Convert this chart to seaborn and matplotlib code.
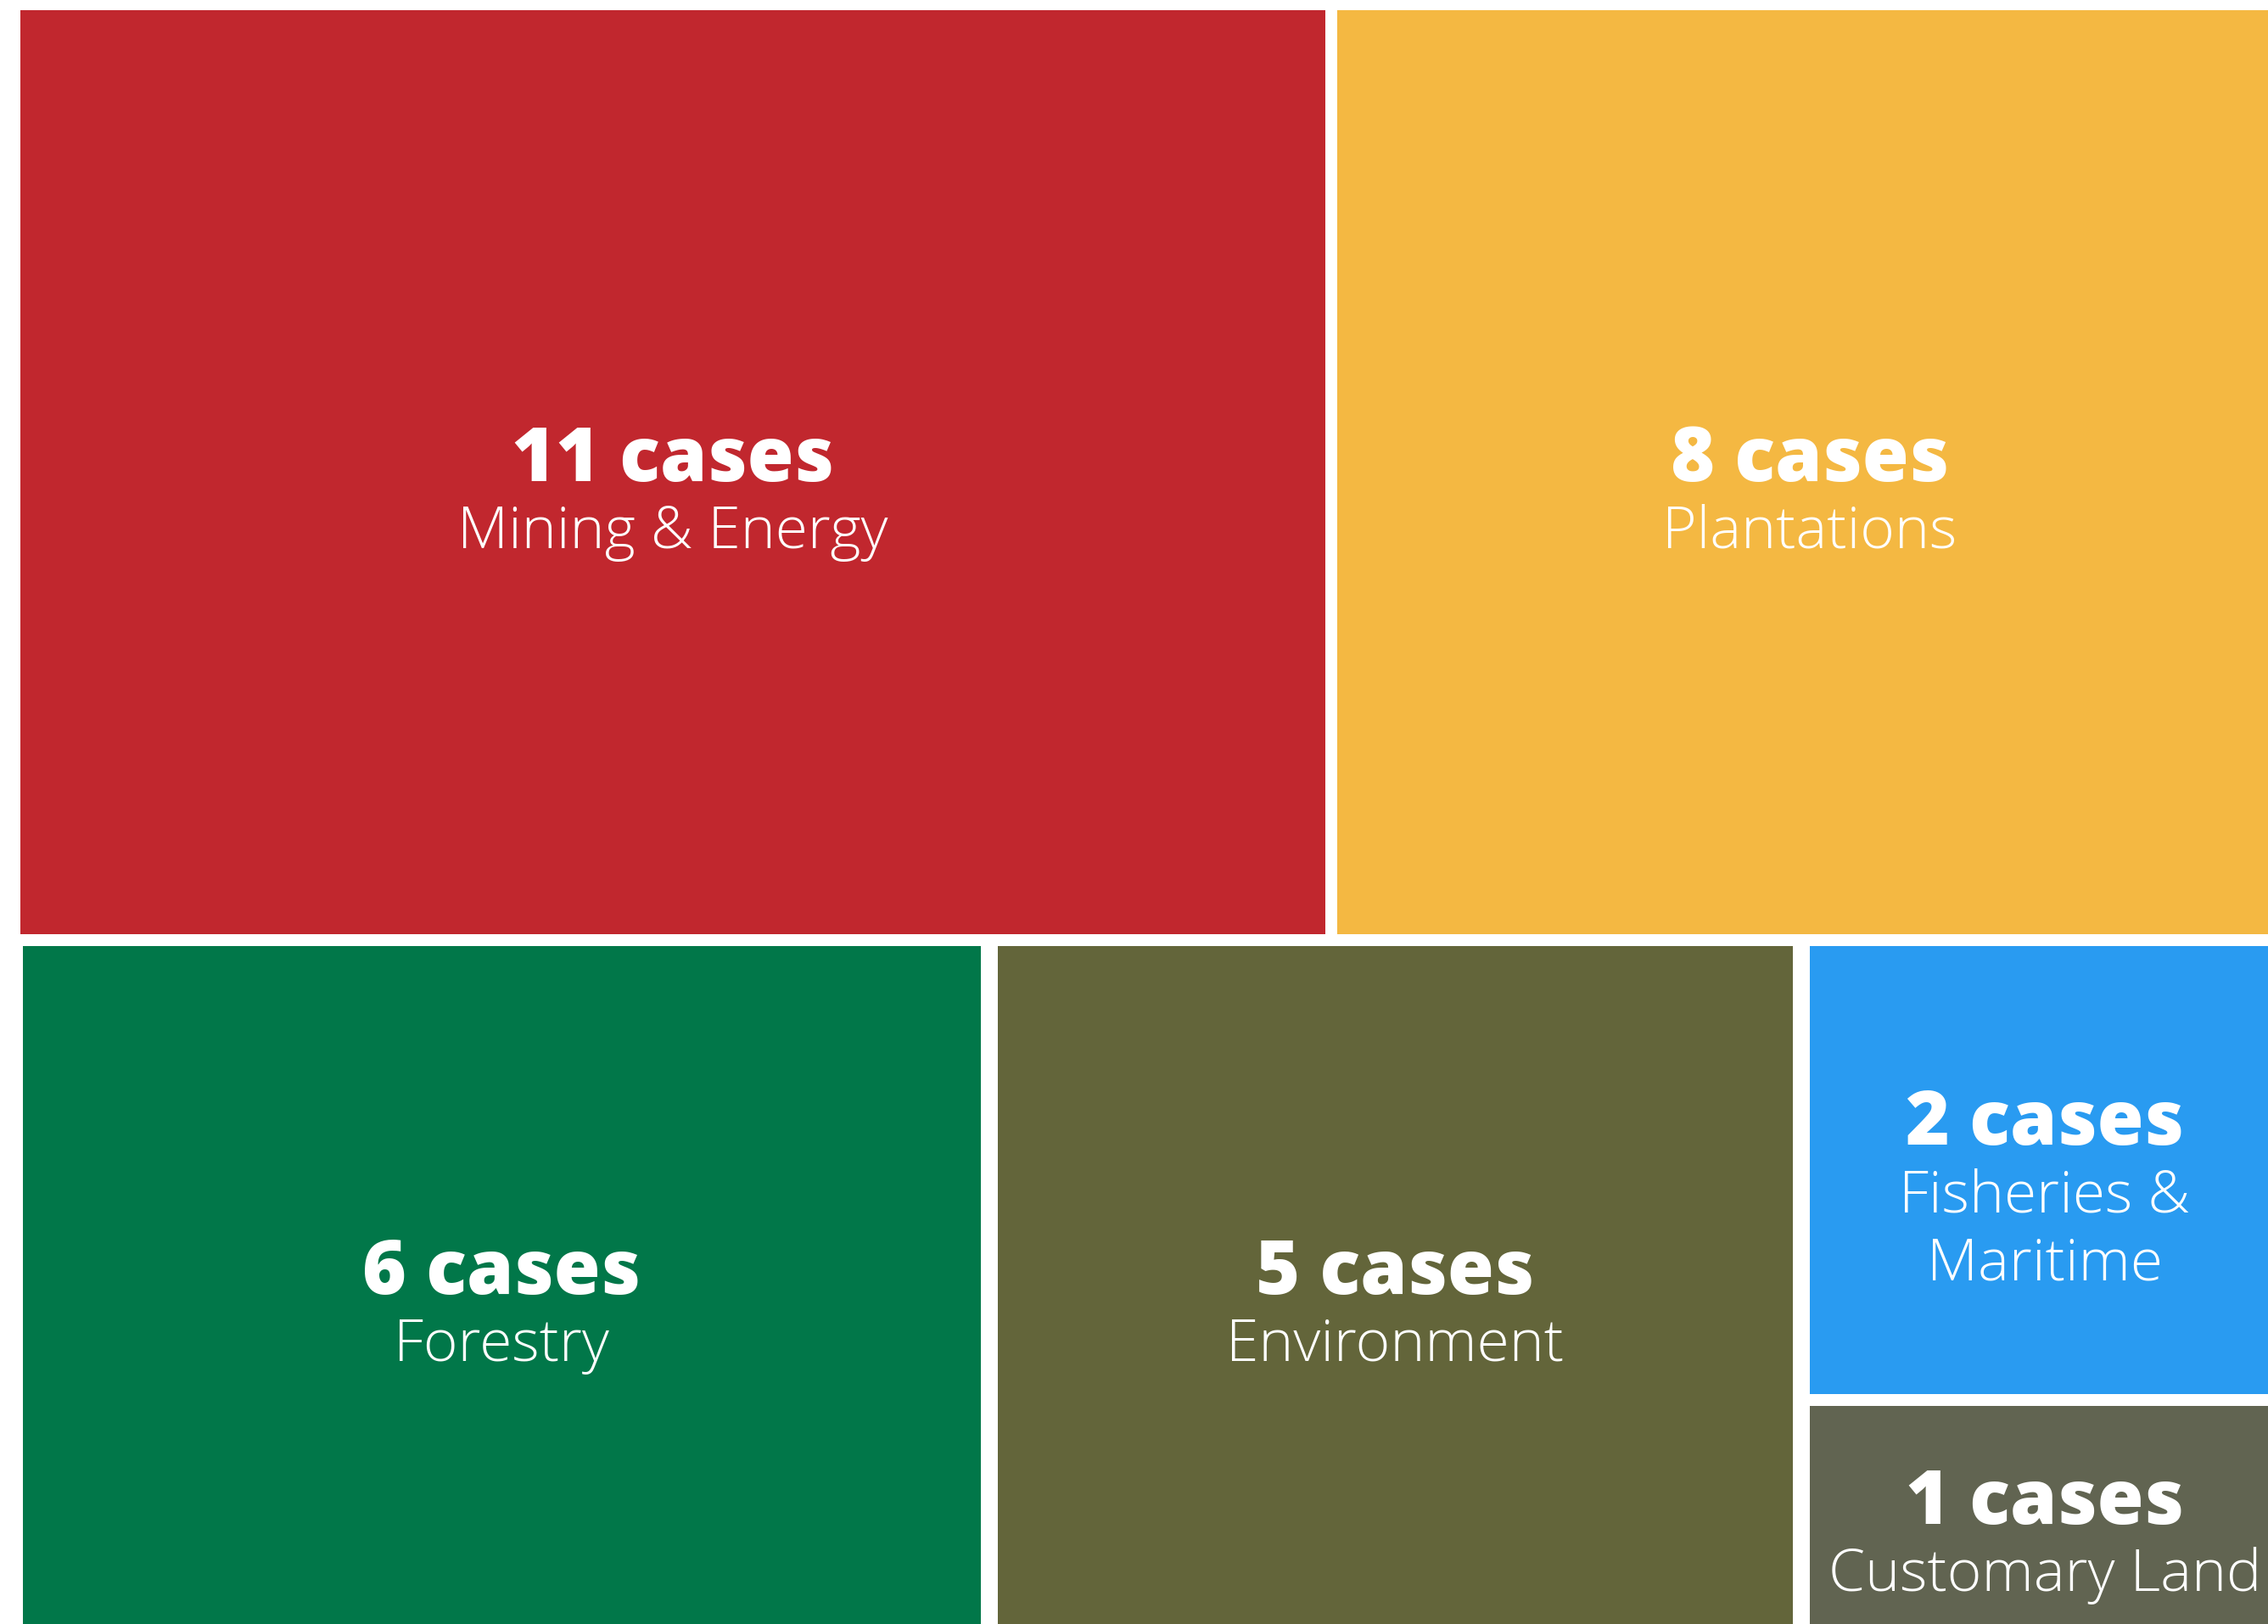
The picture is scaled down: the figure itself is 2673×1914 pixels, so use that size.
import matplotlib.pyplot as plt
from matplotlib.patches import Rectangle
import seaborn as sns

sns.set_theme(style='white')
plt.rcParams['font.family'] = ['Open Sans', 'DejaVu Sans']

# Cases per sector
sectors = ['Mining & Energy', 'Plantations', 'Forestry', 'Environment',
           'Fisheries &\nMaritime', 'Customary Land']
cases = [11, 8, 6, 5, 2, 1]
colors = ['#C1272E', '#F4B842', '#017749', '#63653A', '#299BF1', '#616451']

# treemap structure: rows of groups, each group stacked vertically
rows = [[[0], [1]], [[2], [3], [4, 5]]]

palette = sns.color_palette(colors)

fig = plt.figure(figsize=(26.73, 19.14), dpi=100)
ax = fig.add_axes([0, 0, 1, 1])
ax.set_xlim(0, 2673)
ax.set_ylim(1914, 0)
ax.axis('off')

# layout in pixel units, the tiles run a bit past the right/bottom edge
X0, Y0, W, H = 17, 5, 2680, 1916
padx = [7, 10]
pady = 7
total = sum(cases)

y = Y0
for r, row in enumerate(rows):
    row_sum = sum(cases[i] for g in row for i in g)
    rh = H * row_sum / total
    x = X0
    for group in row:
        gsum = sum(cases[i] for i in group)
        gw = W * gsum / row_sum
        yy = y
        for i in group:
            ch = rh * cases[i] / gsum
            ax.add_patch(Rectangle((x + padx[r], yy + pady), gw - 2 * padx[r], ch - 2 * pady,
                                   facecolor=palette[i], edgecolor='none'))
            cx, cy = x + gw / 2, yy + ch / 2
            lines = sectors[i].split('\n')
            first = cy + 10 - 40 * (len(lines) - 1)
            ax.text(cx, first, f'{cases[i]} cases', ha='center', va='baseline',
                    color='white', fontsize=64, fontweight=800)
            for k, ln in enumerate(lines):
                ax.text(cx, first + 79 + 80 * k, ln, ha='center', va='baseline',
                        color='white', fontsize=50, fontweight=300)
            yy += ch
        x += gw
    y += rh

fig.savefig('out.png', dpi=100, facecolor='white')
